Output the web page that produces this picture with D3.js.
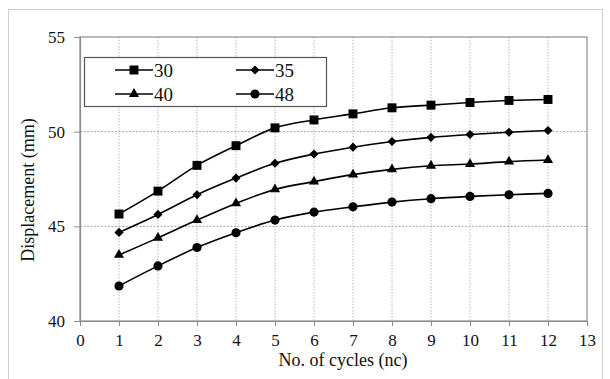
<!DOCTYPE html>
<html>
<head>
<meta charset="utf-8">
<script src="https://cdn.jsdelivr.net/npm/d3@7"></script>
<style>
  body { margin: 0; background: #fff; }
  svg { display: block; }
  svg text { font-family: "Liberation Serif", "Times New Roman", serif; }
</style>
</head>
<body>
<svg width="610" height="379"></svg>
<script>
var svg = d3.select("svg"),
	margin = {top: 37, right: 23, bottom: 58, left: 80},
	width = +svg.attr("width") - margin.left - margin.right,
	height = +svg.attr("height") - margin.top - margin.bottom;

let cycles = [1, 2, 3, 4, 5, 6, 7, 8, 9, 10, 11, 12];
let s30 = [45.65, 46.86, 48.22, 49.26, 50.2, 50.62, 50.94, 51.26, 51.4, 51.54, 51.65, 51.7];
let s35 = [44.68, 45.63, 46.67, 47.55, 48.33, 48.82, 49.18, 49.48, 49.7, 49.85, 49.97, 50.06];
let s40 = [43.49, 44.39, 45.33, 46.21, 46.95, 47.36, 47.73, 48.01, 48.2, 48.29, 48.42, 48.5];
let s48 = [41.85, 42.91, 43.88, 44.66, 45.33, 45.75, 46.03, 46.28, 46.46, 46.58, 46.67, 46.74];
let series_names = ["30", "35", "40", "48"];
let x_ticks = d3.range(0, 14);
let y_ticks = [40, 45, 50, 55];

let series = [
	{name: series_names[0], values: s30, symbol: d3.symbolSquare, size: 80, rot: 0},
	{name: series_names[1], values: s35, symbol: d3.symbolSquare, size: 42, rot: 45},
	{name: series_names[2], values: s40, symbol: d3.symbolTriangle, size: 45, rot: 0},
	{name: series_names[3], values: s48, symbol: d3.symbolCircle, size: 66, rot: 0}
];

// outer frame
svg.append("rect")
	.attr("x", 8.5)
	.attr("y", 9.5)
	.attr("width", 594)
	.attr("height", 380)
	.attr("fill", "none")
	.attr("stroke", "#cfcfcf");

var x = d3.scaleLinear()
	.domain([0, 13])
	.range([0, width]);

var y = d3.scaleLinear()
	.domain([40, 55])
	.range([height, 0]);

var focus = svg.append("g")
	.attr("transform", "translate(" + margin.left + "," + margin.top + ")");

// grid lines
focus.selectAll(".vgrid")
	.data(x_ticks.filter(function(d) { return d > 0 && d < 13; }))
	.enter()
	.append("line")
	.attr("x1", function(d) { return x(d); })
	.attr("x2", function(d) { return x(d); })
	.attr("y1", 0)
	.attr("y2", height)
	.attr("stroke", "#b5b5b5")
	.attr("stroke-dasharray", "1.5,1.5");

focus.selectAll(".hgrid")
	.data(y_ticks.filter(function(d) { return d > 40 && d < 55; }))
	.enter()
	.append("line")
	.attr("x1", 0)
	.attr("x2", width)
	.attr("y1", function(d) { return y(d); })
	.attr("y2", function(d) { return y(d); })
	.attr("stroke", "#a5a5a5")
	.attr("stroke-dasharray", "2,1.5");

// plot border
focus.append("rect")
	.attr("x", 0)
	.attr("y", 0)
	.attr("width", width)
	.attr("height", height)
	.attr("fill", "none")
	.attr("stroke", "#8c8c8c")
	.attr("stroke-width", 1.2);

var xAxis = d3.axisBottom(x).tickValues(x_ticks).tickSize(5).tickSizeOuter(0),
	yAxis = d3.axisLeft(y).tickValues(y_ticks).tickSize(6).tickSizeOuter(0);

var gx = focus.append("g")
	.attr("transform", "translate(0," + height + ")")
	.call(xAxis);
var gy = focus.append("g")
	.call(yAxis);

[gx, gy].forEach(function(g) {
	g.attr("font-family", null).attr("font-size", null);
	g.select(".domain").attr("stroke", "#8c8c8c").attr("stroke-width", 1.2);
	g.selectAll(".tick line").attr("stroke", "#8c8c8c");
	g.selectAll(".tick text")
		.attr("fill", "#111")
		.style("font-size", "17px");
});
gx.selectAll(".tick text").attr("dy", "0.95em").attr("y", 9);
gy.selectAll(".tick text").attr("x", -15);

var line = d3.line()
	.curve(d3.curveCatmullRom.alpha(0.5))
	.x(function(d, i) { return x(cycles[i]); })
	.y(function(d) { return y(d); });

series.forEach(function(s) {
	focus.append("path")
		.datum(s.values)
		.attr("fill", "none")
		.attr("stroke", "#000")
		.attr("stroke-width", 1.6)
		.attr("d", line);

	focus.selectAll(null)
		.data(s.values)
		.enter()
		.append("path")
		.attr("d", d3.symbol().type(s.symbol).size(s.size))
		.attr("transform", function(d, i) {
			return "translate(" + x(cycles[i]) + "," + y(d) + ") rotate(" + s.rot + ")";
		})
		.attr("fill", "#000");
});

// legend
var legend = svg.append("g")
	.attr("transform", "translate(84,57)");

legend.append("rect")
	.attr("x", 0.5)
	.attr("y", 0.5)
	.attr("width", 242)
	.attr("height", 49)
	.attr("fill", "#fff")
	.attr("stroke", "#555")
	.attr("stroke-width", 1.2);

var items = legend.selectAll(".item")
	.data(series)
	.enter()
	.append("g")
	.attr("transform", function(d, i) {
		return "translate(" + (31 + (i % 2) * 121) + "," + (13 + Math.floor(i / 2) * 24) + ")";
	});

items.append("line")
	.attr("x1", 0)
	.attr("x2", 38)
	.attr("stroke", "#000")
	.attr("stroke-width", 1.6);

items.append("path")
	.attr("d", function(d) { return d3.symbol().type(d.symbol).size(d.size)(); })
	.attr("transform", function(d) { return "translate(19,0) rotate(" + d.rot + ")"; })
	.attr("fill", "#000");

items.append("text")
	.attr("x", 39)
	.attr("dy", "0.35em")
	.style("font-size", "19px")
	.attr("fill", "#111")
	.text(function(d) { return d.name; });

// axis titles
svg.append("text")
	.attr("x", 343)
	.attr("y", 366)
	.attr("text-anchor", "middle")
	.style("font-size", "18px")
	.attr("fill", "#111")
	.text("No. of cycles (nc)");

svg.append("text")
	.attr("transform", "translate(34," + 190 + ") rotate(-90)")
	.attr("text-anchor", "middle")
	.style("font-size", "18px")
	.attr("fill", "#111")
	.text("Displacement (mm)");
</script>
</body>
</html>
